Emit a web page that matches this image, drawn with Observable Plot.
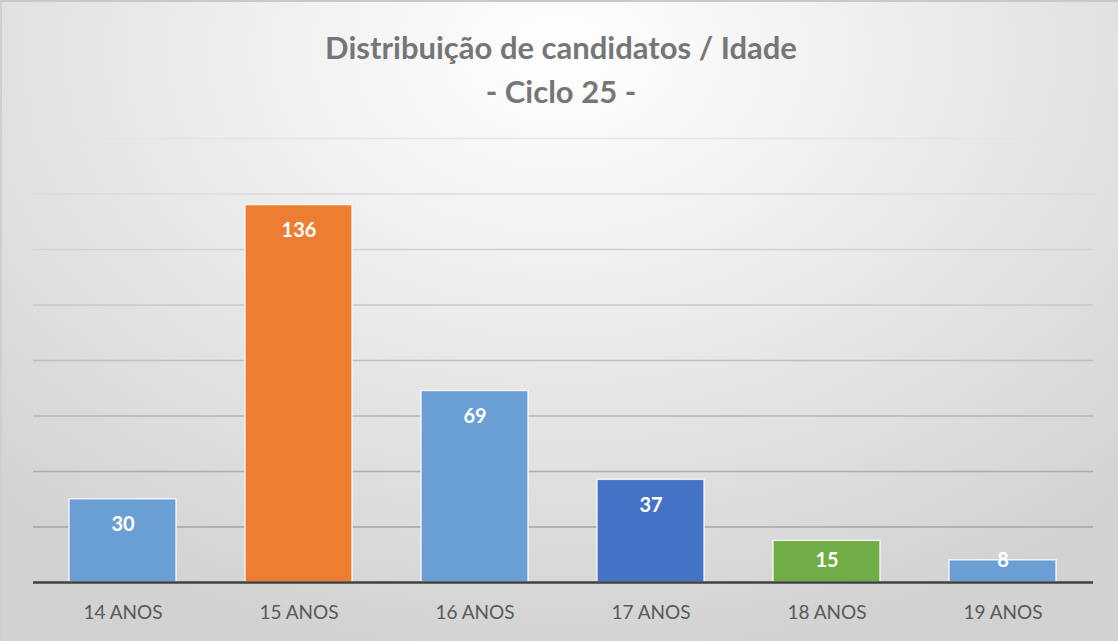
<!DOCTYPE html>
<html>
<head>
<meta charset="utf-8">
<script src="https://cdn.jsdelivr.net/npm/d3@7"></script>
<script src="https://cdn.jsdelivr.net/npm/@observablehq/plot@0.6"></script>
<style>
  html, body { margin: 0; padding: 0; }
  #wrap {
    position: relative; width: 1118px; height: 641px; overflow: hidden;
    background: radial-gradient(ellipse 75% 95% at 50% 8%, #ffffff 0%, #f2f2f2 30%, #e2e2e2 65%, #d2d2d2 100%);
    box-sizing: border-box; border-top: 2px solid #c8c8c8; border-left: 2px solid #cfcfcf;
  }
  .title {
    position: absolute; left: 0; width: 1118px; text-align: center;
    font-family: Lato, sans-serif; font-weight: bold; font-size: 31px; color: #767676;
  }
  #chart { position: absolute; left: -2px; top: -2px; }
</style>
</head>
<body>
<div id="wrap">
  <div class="title" style="top:26px">Distribuição de candidatos / Idade</div>
  <div class="title" style="top:70px">- Ciclo 25 -</div>
  <div id="chart"></div>
</div>
<script>
const categories = ["14 ANOS", "15 ANOS", "16 ANOS", "17 ANOS", "18 ANOS", "19 ANOS"];
const values = [30, 136, 69, 37, 15, 8];
const colors = ["#6a9fd6", "#ed7d31", "#6a9fd6", "#4472c4", "#70ad47", "#6a9fd6"];
const yTicks = [0, 20, 40, 60, 80, 100, 120, 140, 160];

const data = categories.map((c, i) => ({category: c, value: values[i], color: colors[i]}));

const plot = Plot.plot({
  width: 1118,
  height: 641,
  marginTop: 138,
  marginBottom: 59,
  marginLeft: 33,
  marginRight: 25,
  style: {background: "transparent", fontFamily: "Lato, sans-serif"},
  x: {domain: categories, paddingInner: 0.39, paddingOuter: 0.195, label: null, axis: null},
  y: {domain: [0, 160], label: null, axis: null},
  color: {type: "linear", domain: [20, 160], range: ["#a4a4a4", "#e4e4e4"]},
  marks: [
    Plot.ruleY(yTicks.filter(d => d > 0), {stroke: d => d, strokeWidth: 1.6}),
    Plot.barY(data, {x: "category", y: "value", fill: "color", stroke: "#ffffff", strokeWidth: 1.5, strokeOpacity: 0.8}),
    Plot.ruleY([0], {stroke: "#404040", strokeWidth: 2.5}),
    Plot.text(data, {
      x: "category",
      y: d => Math.max(d.value - 9.3, Math.min(d.value, 7.8)),
      text: d => String(d.value),
      fill: "white", fontWeight: "bold", fontSize: 20
    }),
    Plot.axisX({tickSize: 0, tickPadding: 23, fontSize: 19, color: "#595959", label: null}),
  ]
});
document.getElementById("chart").appendChild(plot);
</script>
</body>
</html>
